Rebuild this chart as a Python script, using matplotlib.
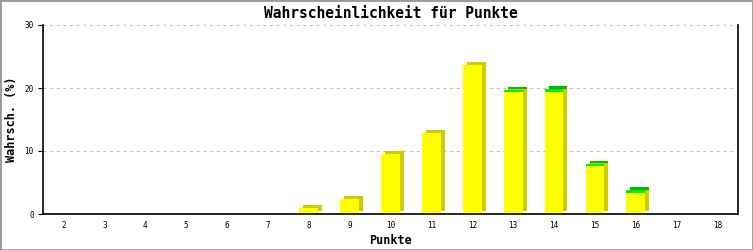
import matplotlib
matplotlib.use("Agg")
import matplotlib.pyplot as plt
import matplotlib.transforms as mtransforms
from matplotlib.patches import Rectangle

# ── Data ─────────────────────────────────────────────────────────────────────
punkte = list(range(2, 19))
gelb   = [0, 0, 0, 0, 0, 0, 1.0, 2.4, 9.5, 12.9, 23.6, 19.3, 19.4, 7.6, 3.3, 0, 0]
gruen  = [0, 0, 0, 0, 0, 0, 0, 0, 0, 0, 0, 0.4, 0.4, 0.3, 0.5, 0, 0]
y_ticks = [0, 10, 20, 30]

TITLE  = "Wahrscheinlichkeit für Punkte"
XLABEL = "Punkte"
YLABEL = "Wahrsch. (%)"

MONO = ["DejaVu Sans Mono", "Liberation Mono"]

# ── Figure ───────────────────────────────────────────────────────────────────
fig = plt.figure(figsize=(7.53, 2.5), dpi=100)
ax = fig.add_axes([43 / 753, 1 - 214 / 250, (738 - 43) / 753, (214 - 25) / 250])

width = 0.46

# 3d look: dark copies shifted a few pixels right/up behind the front bars
shift = mtransforms.ScaledTranslation(4 / 100, 3 / 100, fig.dpi_scale_trans)
ax.bar(punkte, gruen, width, bottom=gelb, color="#00bb00", linewidth=0,
       transform=ax.transData + shift, zorder=1)
ax.bar(punkte, gelb, width, color="#cccc00", linewidth=0,
       transform=ax.transData + shift, zorder=1)
ax.bar(punkte, gelb, width, color="#ffff00", linewidth=0, zorder=2)
ax.bar(punkte, gruen, width, bottom=gelb, color="#00ee00", linewidth=0, zorder=2)

ax.set_xlim(1.5, 18.5)
ax.set_ylim(0, 30)
ax.set_xticks(punkte)
ax.set_xticklabels([str(p) for p in punkte], family=MONO, fontsize=5.5)
ax.set_yticks(y_ticks)
ax.set_yticklabels([str(t) for t in y_ticks], family=MONO, fontsize=5.5)
ax.tick_params(axis="x", length=0, pad=5)
ax.tick_params(axis="y", length=3.6, width=0.8, pad=3, direction="out")

for y in y_ticks[1:]:
    ax.axhline(y, color="#bbbbbb", lw=0.8, ls=(0, (2.5, 3.5)), zorder=0)

ax.spines["top"].set_visible(False)
for s in ("left", "right", "bottom"):
    ax.spines[s].set_linewidth(1.2)
    ax.spines[s].set_zorder(5)

ax.set_title(TITLE, family=MONO, fontweight="bold", fontsize=10.5, pad=5)
ax.set_xlabel(XLABEL, family=MONO, fontweight="bold", fontsize=8.5)
ax.set_ylabel(YLABEL, family=MONO, fontweight="bold", fontsize=8.5)
ax.xaxis.set_label_coords(0.5, -0.105)
ax.yaxis.set_label_coords(-0.036, 0.5)

# grey frame round the picture
fig.patches.append(Rectangle((0, 0), 1, 1, transform=fig.transFigure,
                             fill=False, edgecolor="#999999", lw=2))

fig.savefig("out.png", dpi=100)
